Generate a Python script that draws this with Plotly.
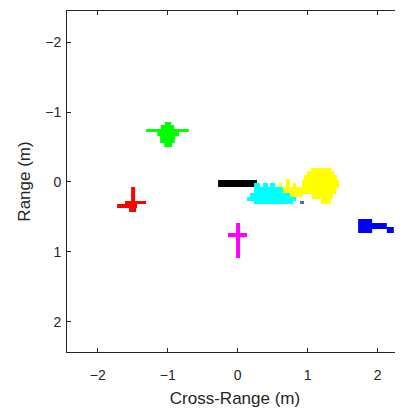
import plotly.graph_objects as go

# Cluster footprints as rectangles (x0, x1, y0, y1) in metres
green = [(-1.31, -0.70, -0.757, -0.714), (-1.04, -0.95, -0.857, -0.814),
         (-1.10, -0.91, -0.814, -0.757), (-1.15, -0.84, -0.757, -0.657),
         (-1.11, -0.90, -0.657, -0.557), (-1.05, -0.94, -0.557, -0.50)]
red = [(-1.524, -1.467, 0.071, 0.286), (-1.61, -1.31, 0.27, 0.314),
       (-1.724, -1.439, 0.314, 0.371), (-1.553, -1.453, 0.371, 0.43)]
black = [(-0.281, 0.276, -0.029, 0.071)]
cyan = [(0.233, 0.319, 0.014, 0.071), (0.361, 0.433, 0.014, 0.071),
        (0.461, 0.533, 0.014, 0.071), (0.233, 0.647, 0.071, 0.157),
        (0.176, 0.747, 0.157, 0.214), (0.133, 0.833, 0.214, 0.271),
        (0.233, 0.79, 0.271, 0.314)]
yellow = [(0.59, 0.633, 0.014, 0.071), (0.69, 0.747, -0.043, 0.071),
          (0.79, 0.833, 0.014, 0.071), (0.647, 0.933, 0.071, 0.157),
          (0.747, 0.933, 0.157, 0.214), (1.047, 1.333, -0.2, -0.157),
          (0.99, 1.376, -0.157, -0.10), (0.947, 1.419, -0.10, -0.029),
          (0.919, 1.447, -0.029, 0.086), (0.933, 1.404, 0.086, 0.171),
          (1.061, 1.361, 0.171, 0.243), (1.19, 1.33, 0.243, 0.314)]
steel = [(0.89, 0.947, 0.271, 0.314)]
blue = [(1.72, 1.92, 0.53, 0.73), (1.92, 2.13, 0.586, 0.671),
        (2.13, 2.23, 0.643, 0.729)]
magenta = [(-0.024, 0.033, 0.586, 1.086), (-0.139, 0.133, 0.729, 0.786)]

clusters = [(green, "#00ff00"), (red, "#ff0000"), (black, "#000000"),
            (yellow, "#ffff00"), (cyan, "#00ffff"), (steel, "#4a6aa8"),
            (blue, "#0000ff"), (magenta, "#ff00ff")]

x_ticks = [-2, -1, 0, 1, 2]
y_ticks = [-2, -1, 0, 1, 2]

fig = go.Figure()
for rects, color in clusters:
    xs, ys = [], []
    for x0, x1, y0, y1 in rects:
        xs += [x0, x1, x1, x0, x0, None]
        ys += [y0, y0, y1, y1, y0, None]
    fig.add_trace(go.Scatter(x=xs, y=ys, mode="lines", fill="toself",
                             fillcolor=color, line=dict(width=0, color=color),
                             hoverinfo="skip", showlegend=False))

axcol = "#262626"
font = dict(family="Liberation Sans, Arial, sans-serif", size=14, color=axcol)
fig.update_layout(
    width=395, height=406,
    margin=dict(l=59, r=0, t=3, b=62),
    plot_bgcolor="white", paper_bgcolor="white",
    font=font,
    xaxis=dict(range=[-2.44, 2.361], tickvals=x_ticks, ticks="inside",
               ticklen=4, tickcolor=axcol, showline=True, linecolor=axcol,
               linewidth=1, mirror="ticks", showgrid=False, zeroline=False,
               ticklabelstandoff=10,
               title=dict(text="Cross-Range (m)", font=dict(size=17, color=axcol),
                          standoff=10),
               tickfont=dict(size=14, color=axcol)),
    yaxis=dict(range=[2.429, -2.443], tickvals=y_ticks, ticks="inside",
               ticklen=4, tickcolor=axcol, showline=True, linecolor=axcol,
               linewidth=1, showgrid=False, zeroline=False,
               ticklabelstandoff=2,
               title=dict(text="Range (m)", font=dict(size=17, color=axcol),
                          standoff=10),
               tickfont=dict(size=14, color=axcol)),
)
fig.write_html("out.html")
